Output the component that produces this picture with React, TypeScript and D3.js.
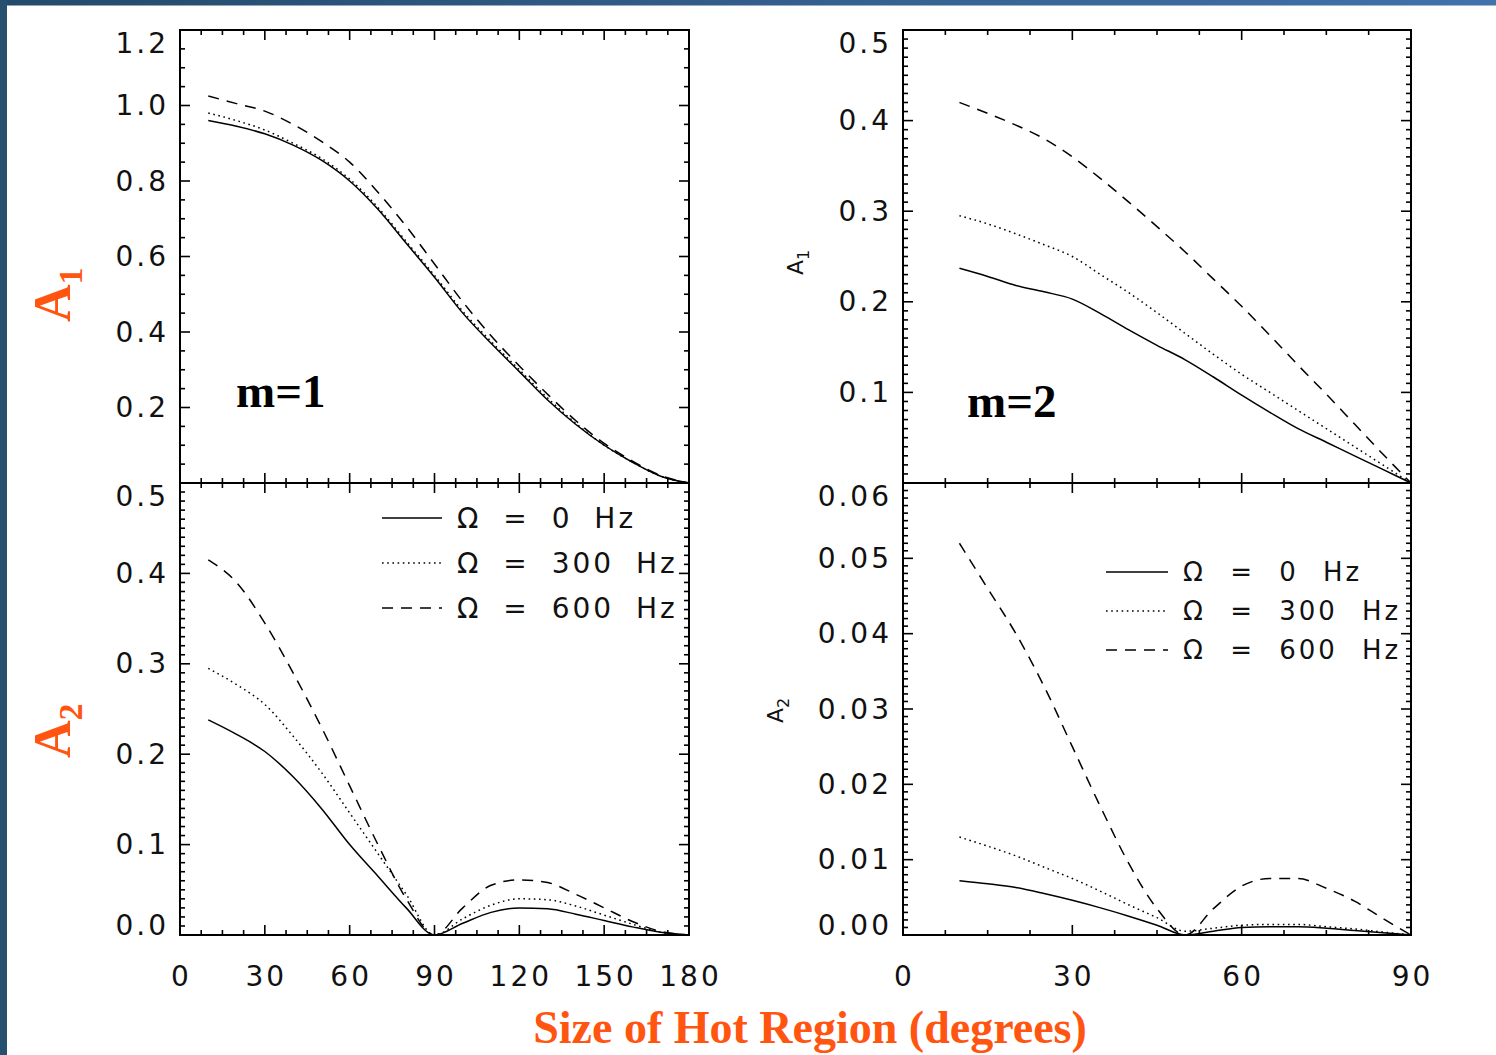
import React from 'react';
import * as d3 from 'd3';

// ---------- data ----------
const degM1 = [10, 20, 30, 40, 50, 60, 70, 80, 90, 100, 110, 120, 130, 140, 150, 160, 170, 180];
const m1A1_0 = [0.96, 0.945, 0.925, 0.895, 0.855, 0.8, 0.725, 0.635, 0.545, 0.45, 0.37, 0.295, 0.22, 0.155, 0.1, 0.055, 0.018, 0.0];
const m1A1_300 = [0.98, 0.96, 0.935, 0.9, 0.86, 0.805, 0.73, 0.64, 0.55, 0.455, 0.375, 0.3, 0.225, 0.158, 0.1, 0.055, 0.018, 0.0];
const m1A1_600 = [1.025, 1.005, 0.985, 0.95, 0.905, 0.85, 0.77, 0.68, 0.58, 0.48, 0.39, 0.31, 0.235, 0.165, 0.105, 0.058, 0.02, 0.0];
const m1A2_0 = [0.238, 0.222, 0.203, 0.175, 0.14, 0.1, 0.065, 0.03, 0.0, 0.013, 0.025, 0.03, 0.029, 0.023, 0.016, 0.009, 0.003, 0.0];
const m1A2_300 = [0.295, 0.277, 0.255, 0.22, 0.18, 0.135, 0.09, 0.045, 0.0, 0.018, 0.033, 0.04, 0.039, 0.032, 0.022, 0.012, 0.003, 0.0];
const m1A2_600 = [0.415, 0.39, 0.345, 0.29, 0.23, 0.165, 0.1, 0.04, 0.0, 0.03, 0.055, 0.061, 0.058, 0.045, 0.03, 0.015, 0.004, 0.0];

const degM2 = [10, 15, 20, 25, 30, 35, 40, 45, 50, 55, 60, 65, 70, 75, 80, 85, 90];
const m2A1_0 = [0.237, 0.228, 0.218, 0.211, 0.203, 0.187, 0.169, 0.152, 0.136, 0.117, 0.097, 0.078, 0.06, 0.045, 0.03, 0.015, 0.0];
const m2A1_300 = [0.295, 0.286, 0.275, 0.263, 0.25, 0.23, 0.21, 0.188, 0.165, 0.142, 0.12, 0.1, 0.08, 0.06, 0.04, 0.02, 0.0];
const m2A1_600 = [0.42, 0.408, 0.395, 0.38, 0.36, 0.336, 0.31, 0.283, 0.255, 0.225, 0.195, 0.163, 0.13, 0.098, 0.065, 0.032, 0.0];
const m2A2_0 = [0.0072, 0.0068, 0.0063, 0.0055, 0.0046, 0.0036, 0.0025, 0.0013, 0.0, 0.0005, 0.001, 0.0011, 0.0011, 0.0009, 0.0006, 0.0003, 0.0];
const m2A2_300 = [0.013, 0.0118, 0.0105, 0.009, 0.0075, 0.0058, 0.004, 0.0023, 0.0005, 0.0009, 0.0013, 0.0014, 0.0014, 0.0011, 0.0008, 0.0004, 0.0];
const m2A2_600 = [0.052, 0.046, 0.04, 0.033, 0.025, 0.017, 0.0095, 0.0035, 0.0, 0.0035, 0.0065, 0.0075, 0.0075, 0.0062, 0.0045, 0.0022, 0.0];

const legendLabels = ['Ω = 0 Hz', 'Ω = 300 Hz', 'Ω = 600 Hz'];
const xTicksM1 = [0, 30, 60, 90, 120, 150, 180];
const xTicksM2 = [0, 30, 60, 90];
const yLabelsTL = [0.2, 0.4, 0.6, 0.8, 1.0, 1.2];
const yLabelsBL = [0.0, 0.1, 0.2, 0.3, 0.4, 0.5];
const yLabelsTR = [0.1, 0.2, 0.3, 0.4, 0.5];
const yLabelsBR = [0.0, 0.01, 0.02, 0.03, 0.04, 0.05, 0.06];

const ORANGE = '#ff5511';
const TICKFONT = '"DejaVu Sans", sans-serif';
const TFS = 28;
const TLS = 3;
const dashes = ['none', '1.6 3.6', '11 8'];

type PanelProps = {
  x0: number; x1: number; y0: number; y1: number;
  xDomain: [number, number]; yDomain: [number, number];
  xMajor: number; xMinor: number; yMajor: number; yMinor: number;
  yLabels: number[]; yFmt: (v: number) => string;
  xLabels?: number[];
  xs: number[]; series: number[][];
  legend?: { x: number; y: number; dy: number; fs: number; ls: number; ws: number; len: number };
};

function Panel(p: PanelProps) {
  const x = d3.scaleLinear().domain(p.xDomain).range([p.x0, p.x1]);
  const y = d3.scaleLinear().domain(p.yDomain).range([p.y1, p.y0]);
  const nX = Math.round((p.xDomain[1] - p.xDomain[0]) / p.xMinor);
  const nY = Math.round((p.yDomain[1] - p.yDomain[0]) / p.yMinor);
  const xMinorVals = d3.range(nX + 1).map(i => p.xDomain[0] + i * p.xMinor);
  const yMinorVals = d3.range(nY + 1).map(i => p.yDomain[0] + i * p.yMinor);
  const isMajor = (v: number, step: number) => Math.abs(v / step - Math.round(v / step)) < 1e-6;
  const line = d3.line<number>().x((_, i) => x(p.xs[i])).y(d => y(d)).curve(d3.curveMonotoneX);
  const ticks: any[] = [];
  xMinorVals.forEach((v, i) => {
    const L = isMajor(v, p.xMajor) ? 10 : 5;
    const px = x(v);
    ticks.push(<line key={'xb' + i} x1={px} x2={px} y1={p.y1} y2={p.y1 - L} />);
    ticks.push(<line key={'xt' + i} x1={px} x2={px} y1={p.y0} y2={p.y0 + L} />);
  });
  yMinorVals.forEach((v, i) => {
    const L = isMajor(v, p.yMajor) ? 10 : 5;
    const py = y(v);
    ticks.push(<line key={'yl' + i} x1={p.x0} x2={p.x0 + L} y1={py} y2={py} />);
    ticks.push(<line key={'yr' + i} x1={p.x1} x2={p.x1 - L} y1={py} y2={py} />);
  });
  return (
    <g>
      <g>
        {p.series.map((s, i) => (
          <path key={i} d={line(s) || ''} fill="none" stroke="#000" strokeWidth={1.5}
            strokeDasharray={dashes[i]} />
        ))}
      </g>
      <g stroke="#000" strokeWidth={1.6}>{ticks}</g>
      <rect x={p.x0} y={p.y0} width={p.x1 - p.x0} height={p.y1 - p.y0} fill="none" stroke="#000" strokeWidth={2} />
      <g fontFamily={TICKFONT} fontSize={TFS} letterSpacing={TLS} fill="#111">
        {p.yLabels.map((v, i) => {
          let py = y(v);
          if (Math.abs(py - p.y0) < 1) py += 13;
          if (Math.abs(py - p.y1) < 1) py -= 10;
          return (
            <text key={i} x={p.x0 - 14 + TLS} y={py} textAnchor="end" dominantBaseline="central">{p.yFmt(v)}</text>
          );
        })}
        {(p.xLabels || []).map((v, i) => (
          <text key={'x' + i} x={x(v) + TLS / 2} y={p.y1 + 41} textAnchor="middle" dominantBaseline="central">{String(v)}</text>
        ))}
      </g>
      {p.legend && (
        <g>
          {legendLabels.map((t, i) => {
            const lg = p.legend!;
            const ly = lg.y + i * lg.dy;
            return (
              <g key={i}>
                <line x1={lg.x} x2={lg.x + lg.len} y1={ly} y2={ly} stroke="#000" strokeWidth={1.5} strokeDasharray={dashes[i]} />
                <text x={lg.x + lg.len + 15} y={ly} dominantBaseline="central" fontFamily={TICKFONT}
                  fontSize={lg.fs} letterSpacing={lg.ls} wordSpacing={lg.ws} fill="#111">{t}</text>
              </g>
            );
          })}
        </g>
      )}
    </g>
  );
}

export default function App() {
  const W = 1496, H = 1055;
  const f1 = (v: number) => v.toFixed(1);
  const f2 = (v: number) => v.toFixed(2);
  return (
    <svg width={W} height={H} style={{ position: 'absolute', left: 0, top: 0, background: '#fff' }}>
      <defs>
        <linearGradient id="topband" x1="0" x2="1" y1="0" y2="0">
          <stop offset="0" stopColor="#244a6b" />
          <stop offset="1" stopColor="#4272ab" />
        </linearGradient>
      </defs>
      <rect x={0} y={0} width={W} height={H} fill="#fff" />
      <rect x={0} y={0} width={W} height={5.5} fill="url(#topband)" />
      <rect x={0} y={0} width={7} height={H} fill="#27506f" />

      <Panel x0={180} x1={689} y0={30} y1={483} xDomain={[0, 180]} yDomain={[0, 1.2]}
        xMajor={30} xMinor={7.5} yMajor={0.2} yMinor={0.05} yLabels={yLabelsTL} yFmt={f1}
        xs={degM1} series={[m1A1_0, m1A1_300, m1A1_600]} />
      <Panel x0={180} x1={689} y0={483} y1={935} xDomain={[0, 180]} yDomain={[0, 0.5]}
        xMajor={30} xMinor={7.5} yMajor={0.1} yMinor={0.01} yLabels={yLabelsBL} yFmt={f1}
        xLabels={xTicksM1}
        xs={degM1} series={[m1A2_0, m1A2_300, m1A2_600]}
        legend={{ x: 382, y: 518, dy: 45, fs: 28, ls: 3, ws: 10, len: 60 }} />
      <Panel x0={903} x1={1411} y0={30} y1={483} xDomain={[0, 90]} yDomain={[0, 0.5]}
        xMajor={30} xMinor={7.5} yMajor={0.1} yMinor={0.01} yLabels={yLabelsTR} yFmt={f1}
        xs={degM2} series={[m2A1_0, m2A1_300, m2A1_600]} />
      <Panel x0={903} x1={1411} y0={483} y1={935} xDomain={[0, 90]} yDomain={[0, 0.06]}
        xMajor={30} xMinor={7.5} yMajor={0.01} yMinor={0.001} yLabels={yLabelsBR} yFmt={f2}
        xLabels={xTicksM2}
        xs={degM2} series={[m2A2_0, m2A2_300, m2A2_600]}
        legend={{ x: 1106, y: 572, dy: 39, fs: 26, ls: 3, ws: 13, len: 62 }} />

      {/* panel labels */}
      <text x={236} y={407} fontFamily='"Liberation Serif", serif' fontWeight="bold" fontSize={47} fill="#000">m=1</text>
      <text x={967} y={417} fontFamily='"Liberation Serif", serif' fontWeight="bold" fontSize={47} fill="#000">m=2</text>

      {/* orange axis titles */}
      <text transform="translate(70,322) rotate(-90)" fontFamily='"Liberation Serif", serif' fontWeight="bold" fontSize={52} fill={ORANGE}>
        A<tspan fontSize={34} dy={12}>1</tspan>
      </text>
      <text transform="translate(70,758) rotate(-90)" fontFamily='"Liberation Serif", serif' fontWeight="bold" fontSize={52} fill={ORANGE}>
        A<tspan fontSize={34} dy={12}>2</tspan>
      </text>
      <text x={810} y={1043} textAnchor="middle" fontFamily='"Liberation Serif", serif' fontWeight="bold" fontSize={46} fill={ORANGE}>
        Size of Hot Region (degrees)
      </text>

      {/* small black axis titles on right panels */}
      <text transform="translate(803,275) rotate(-90)" fontFamily={TICKFONT} fontSize={22} fill="#111">
        A<tspan fontSize={16} dy={6}>1</tspan>
      </text>
      <text transform="translate(783,723) rotate(-90)" fontFamily={TICKFONT} fontSize={22} fill="#111">
        A<tspan fontSize={16} dy={6}>2</tspan>
      </text>
    </svg>
  );
}
